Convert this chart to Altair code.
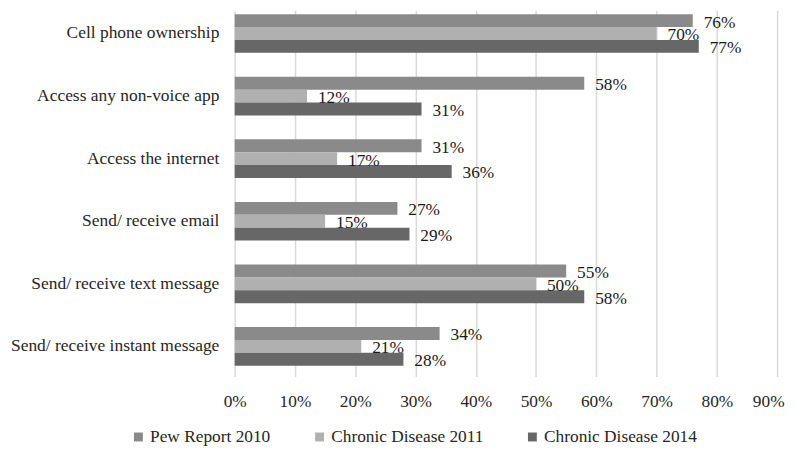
import altair as alt
import pandas as pd

FONT = "Liberation Serif"

categories = [
    "Cell phone ownership",
    "Access any non-voice  app",
    "Access the internet ",
    "Send/ receive email",
    "Send/ receive text message",
    "Send/ receive instant message",
]
series = ["Pew Report 2010", "Chronic Disease 2011", "Chronic Disease 2014"]
pew_2010 = [76, 58, 31, 27, 55, 34]
chronic_2011 = [70, 12, 17, 15, 50, 21]
chronic_2014 = [77, 31, 36, 29, 58, 28]
colors = ["#8a8a8a", "#b0b0b0", "#676767"]
x_ticks = [0, 10, 20, 30, 40, 50, 60, 70, 80, 90]

rows = []
for s, vals in zip(series, [pew_2010, chronic_2011, chronic_2014]):
    for c, v in zip(categories, vals):
        rows.append({"category": c, "series": s, "value": v, "label": f"{v}%"})
df = pd.DataFrame(rows)

y_enc = alt.Y(
    "category:N",
    sort=categories,
    scale=alt.Scale(paddingInner=0.383, paddingOuter=0.118, align=0.27),
    axis=alt.Axis(
        title=None, domain=False, ticks=False, labelPadding=16,
        labelFontSize=17.6, labelFont=FONT, labelColor="#262626", labelLimit=400,
    ),
)
yoff = alt.YOffset("series:N", sort=series, scale=alt.Scale(paddingInner=0, paddingOuter=0))
x_enc = alt.X(
    "value:Q",
    scale=alt.Scale(domain=[0, 90], nice=False, zero=True),
    axis=alt.Axis(
        title=None, values=x_ticks, labelExpr="datum.value + '%'",
        domain=False, ticks=False, grid=True, gridColor="#d9d9d9", gridWidth=1.5,
        labelPadding=16, labelFontSize=17.5, labelFont=FONT, labelColor="#262626",
        labelFlush=False, labelOverlap=False,
        labelOffset={"condition": {"test": "datum.value == 90", "value": -9}, "value": 0},
    ),
)

bars = alt.Chart(df).mark_bar().encode(
    x=x_enc,
    y=y_enc,
    yOffset=yoff,
    color=alt.Color(
        "series:N",
        sort=series,
        scale=alt.Scale(domain=series, range=colors),
        legend=alt.Legend(
            title=None, orient="none", legendX=-106, legendY=422,
            direction="horizontal", symbolType="square", symbolSize=81,
            symbolStrokeWidth=0, labelFontSize=17.5, labelFont=FONT,
            labelColor="#262626", labelOffset=3, columnPadding=40, padding=0,
            labelLimit=400,
        ),
    ),
)

text = alt.Chart(df).mark_text(
    align="left", baseline="middle", dx=11, dy=2, fontSize=17.5, font=FONT, color="#1a1a1a"
).encode(
    x=alt.X("value:Q"),
    y=alt.Y("category:N", sort=categories),
    yOffset=alt.YOffset("series:N", sort=series),
    text="label:N",
)

chart = (
    alt.layer(bars, text)
    .properties(
        width=548,
        height=370,
        padding={"left": 229, "top": 0, "right": 13, "bottom": 71},
        autosize=alt.AutoSizeParams(type="none"),
    )
    .configure_view(stroke=None)
)

chart.save("out.html", embed_options={"renderer": "svg", "actions": False})
